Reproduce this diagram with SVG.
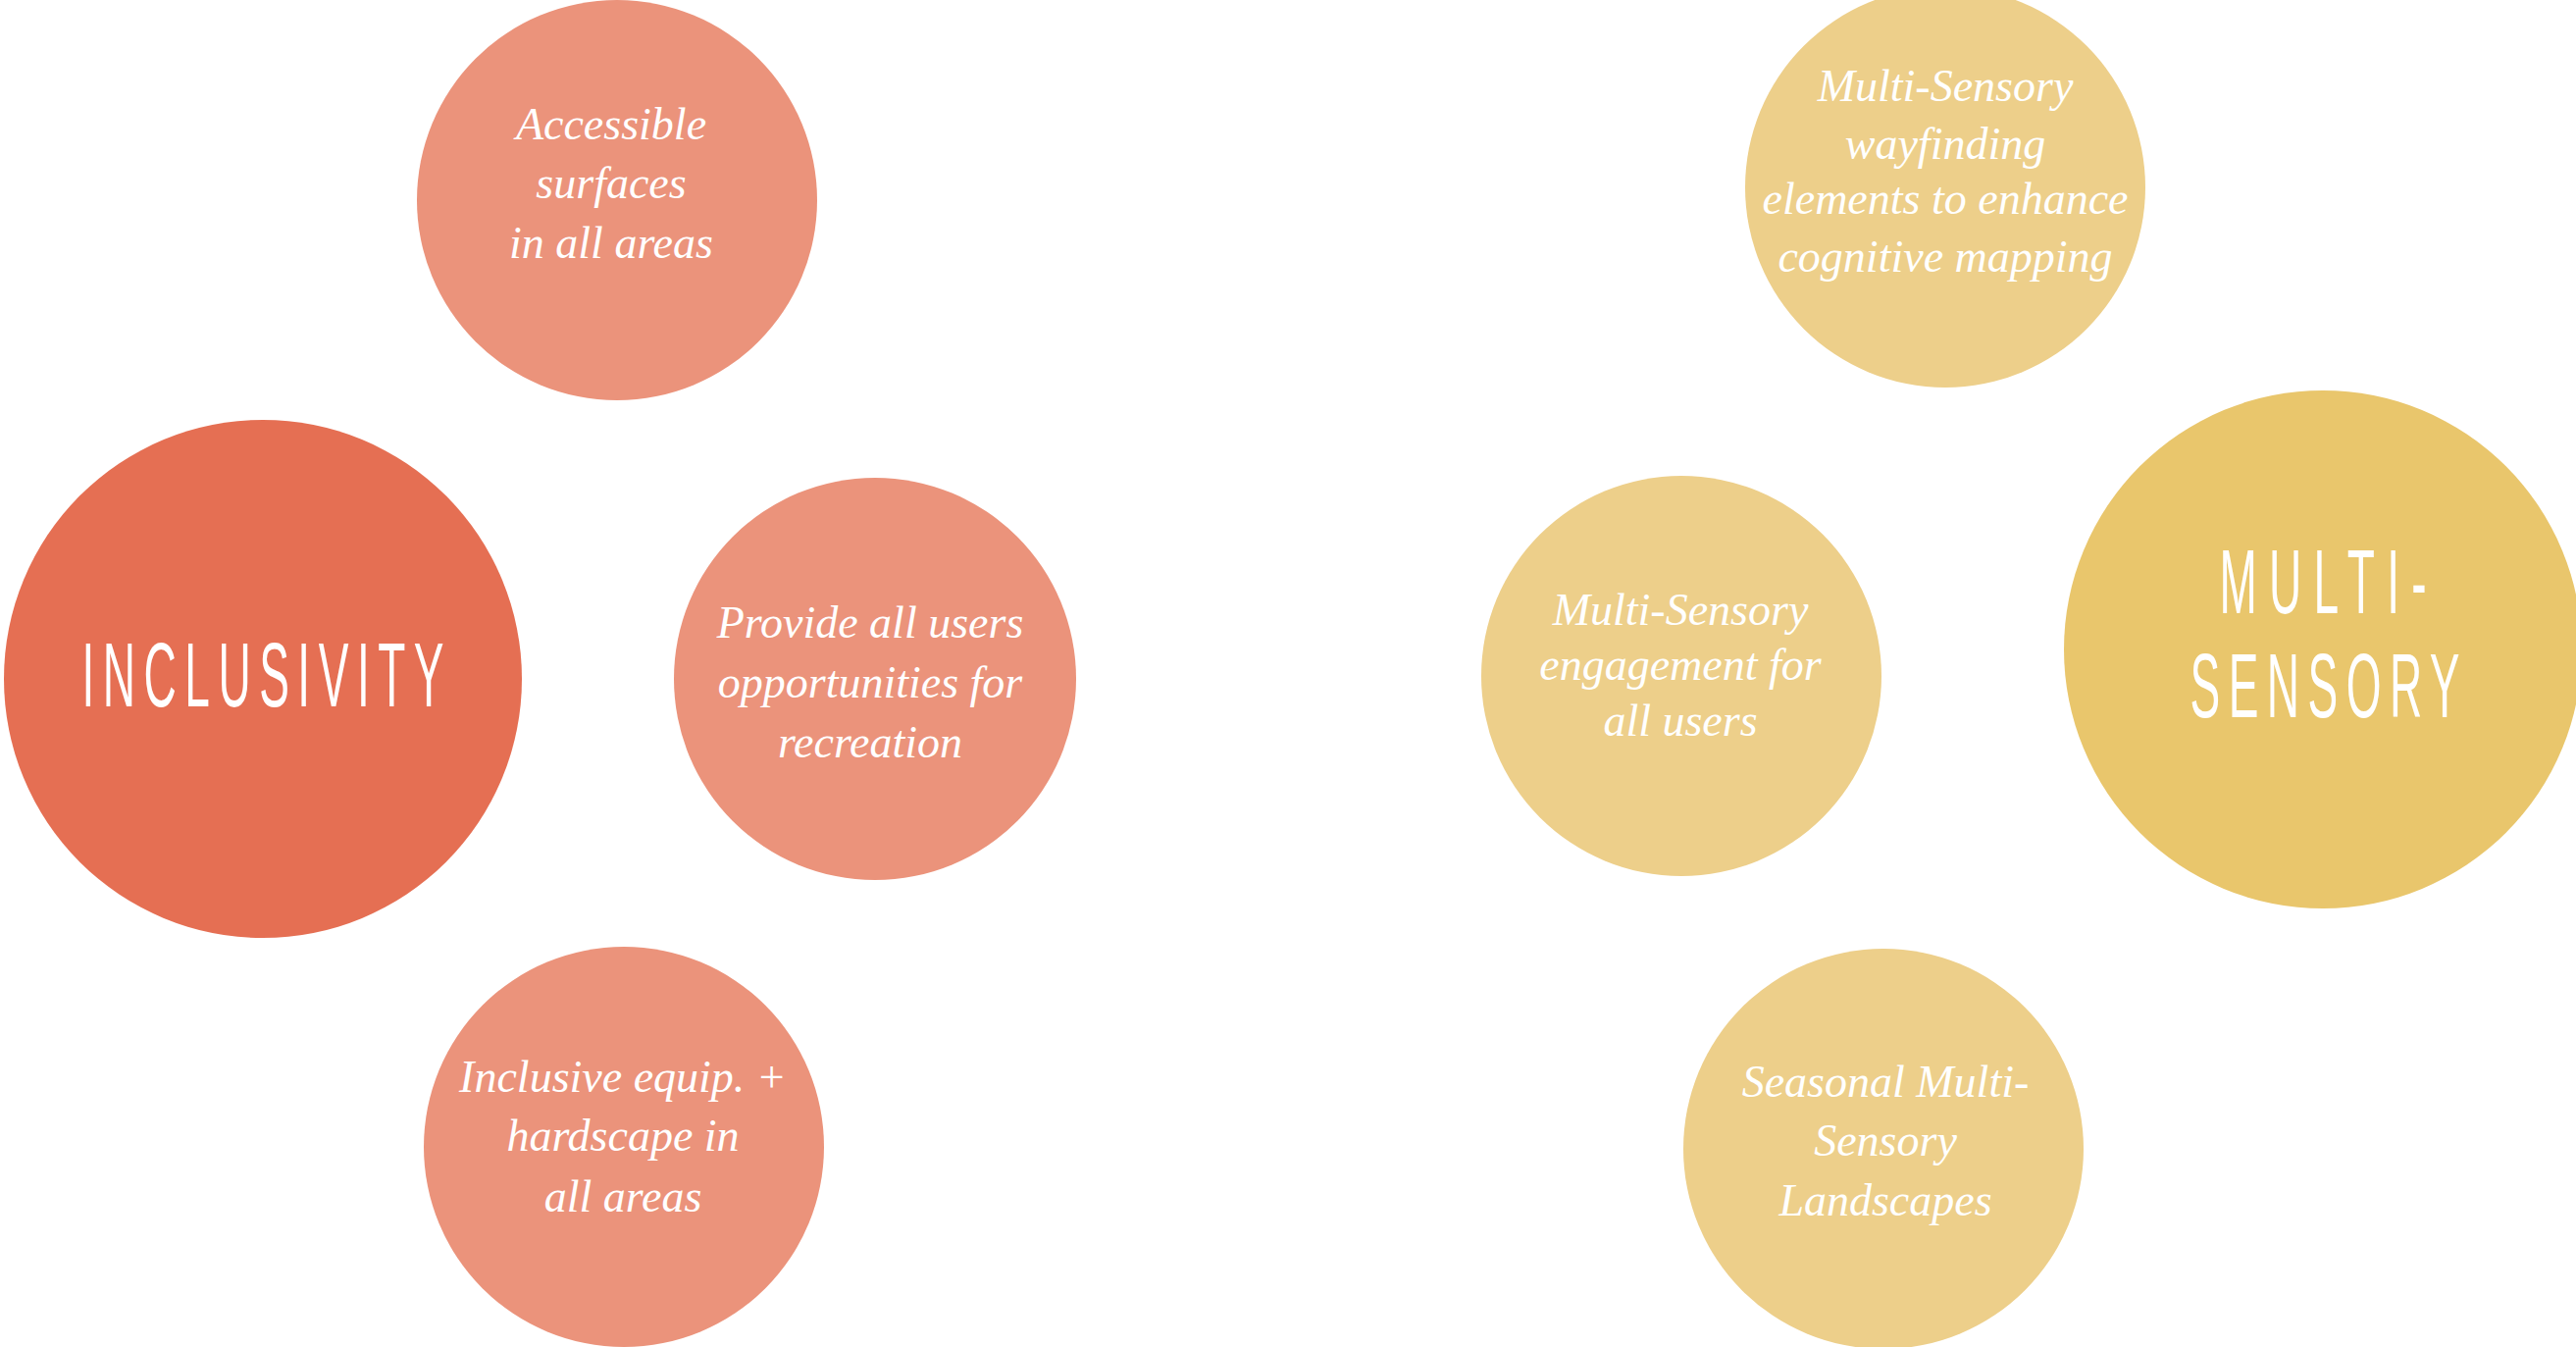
<svg xmlns="http://www.w3.org/2000/svg" width="2626" height="1373" viewBox="0 0 2626 1373">
<style>
.bg{fill:#ffffff}
.main-red{fill:#E56F53}
.sub-red{fill:#EB937B}
.main-yel{fill:#E9C66C}
.sub-yel{fill:#EDCF8A}
.it{font-family:"Liberation Serif","Times New Roman",serif;font-style:italic;font-size:46px;fill:#ffffff;text-anchor:middle}
.cap{font-family:"Liberation Sans",Arial,sans-serif;font-size:92px;fill:#ffffff;text-anchor:middle}
</style>
<rect class="bg" x="0" y="0" width="2626" height="1373"/>
<g id="connectors"/>
<g id="inclusivity">
<circle class="main-red" cx="268" cy="692" r="264"/>
<text class="cap" transform="scale(0.5,1)" x="536" y="720" textLength="738" lengthAdjust="spacing">INCLUSIVITY</text>
</g>
<g id="accessible-surfaces">
<circle class="sub-red" cx="629" cy="204" r="204"/>
<text class="it" x="623" y="142">Accessible</text>
<text class="it" x="623" y="202">surfaces</text>
<text class="it" x="623" y="263">in all areas</text>
</g>
<g id="provide-recreation">
<circle class="sub-red" cx="892" cy="692" r="205"/>
<text class="it" x="887" y="650">Provide all users</text>
<text class="it" x="887" y="711">opportunities for</text>
<text class="it" x="887" y="772">recreation</text>
</g>
<g id="inclusive-equipment">
<circle class="sub-red" cx="636" cy="1169" r="204"/>
<text class="it" x="635" y="1113">Inclusive equip. +</text>
<text class="it" x="635" y="1173">hardscape in</text>
<text class="it" x="635" y="1235">all areas</text>
</g>
<g id="multi-sensory">
<circle class="main-yel" cx="2368" cy="662" r="264"/>
<text class="cap" transform="scale(0.5,1)" x="4736" y="625" textLength="422" lengthAdjust="spacing">MULTI-</text>
<text class="cap" transform="scale(0.5,1)" x="4740" y="731" textLength="550" lengthAdjust="spacing">SENSORY</text>
</g>
<g id="wayfinding">
<circle class="sub-yel" cx="1983" cy="191" r="204"/>
<text class="it" x="1983" y="103">Multi-Sensory</text>
<text class="it" x="1983" y="162">wayfinding</text>
<text class="it" x="1983" y="218">elements to enhance</text>
<text class="it" x="1983" y="277">cognitive mapping</text>
</g>
<g id="engagement">
<circle class="sub-yel" cx="1714" cy="689" r="204"/>
<text class="it" x="1713" y="637">Multi-Sensory</text>
<text class="it" x="1713" y="693">engagement for</text>
<text class="it" x="1713" y="750">all users</text>
</g>
<g id="seasonal">
<circle class="sub-yel" cx="1920" cy="1171" r="204"/>
<text class="it" x="1922" y="1118">Seasonal Multi-</text>
<text class="it" x="1922" y="1178">Sensory</text>
<text class="it" x="1922" y="1239">Landscapes</text>
</g>
</svg>
